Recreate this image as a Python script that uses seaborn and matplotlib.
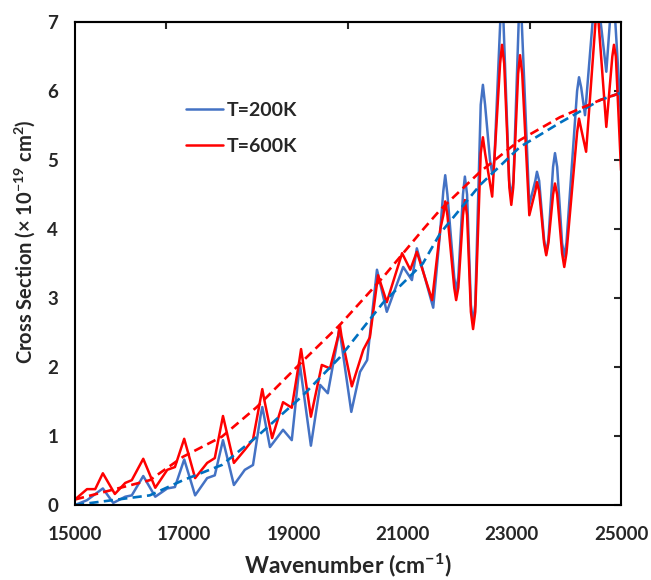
import matplotlib
matplotlib.use("Agg")
import matplotlib.pyplot as plt
import seaborn as sns
import pandas as pd

# solid curves (peaks, valleys, shoulders)
wn_200 = [15000, 15220, 15510, 15700, 15920, 16040, 16250, 16470, 16690, 16830,
          17000, 17200, 17420, 17560, 17710, 17910, 18110, 18260, 18400, 18430,
          18460, 18570, 18810, 18970, 19090, 19120, 19150, 19320, 19490, 19630,
          19810, 19840, 19870, 20060, 20220, 20350, 20530, 20710, 21010, 21170,
          21260, 21560, 21690, 21745, 21780, 21820, 21945, 21980, 22020, 22105,
          22140, 22180, 22250, 22290, 22330, 22430, 22470, 22510, 22600, 22640,
          22680, 22820, 22950, 22990, 23030, 23150, 23320, 23430, 23460, 23500,
          23590, 23630, 23670, 23755, 23790, 23830, 23920, 23960, 24000, 24195,
          24230, 24270, 24340, 24540, 24730, 24850, 25000]
cs_200 = [0.00, 0.07, 0.24, 0.03, 0.12, 0.14, 0.42, 0.12, 0.24, 0.26,
          0.66, 0.14, 0.39, 0.43, 0.94, 0.29, 0.51, 0.58, 1.30, 1.42,
          1.30, 0.84, 1.09, 0.94, 1.85, 2.03, 1.85, 0.86, 1.74, 1.62,
          2.40, 2.56, 2.40, 1.35, 1.93, 2.10, 3.41, 2.80, 3.45, 3.26,
          3.72, 2.86, 3.99, 4.55, 4.78, 4.50, 3.30, 3.10, 3.30, 4.50,
          4.76, 4.50, 2.90, 2.65, 2.90, 5.80, 6.09, 5.80, 5.00, 4.81,
          5.00, 7.60, 4.70, 4.47, 4.70, 7.60, 4.35, 4.70, 4.83, 4.70,
          3.85, 3.65, 3.85, 4.90, 5.10, 4.90, 3.80, 3.60, 3.80, 6.00,
          6.20, 6.05, 5.65, 7.60, 6.28, 7.60, 5.60]

wn_600 = [15000, 15220, 15370, 15510, 15730, 15920, 16040, 16250, 16470, 16690,
          16830, 17000, 17200, 17420, 17560, 17710, 17910, 18110, 18260, 18400,
          18430, 18460, 18610, 18810, 18970, 19110, 19140, 19170, 19320, 19520,
          19670, 19820, 19850, 19880, 20070, 20280, 20400, 20550, 20710, 20990,
          21140, 21260, 21540, 21690, 21745, 21780, 21820, 21945, 21980, 22020,
          22105, 22140, 22180, 22250, 22290, 22330, 22430, 22470, 22510, 22640,
          22785, 22820, 22860, 22955, 22990, 23025, 23115, 23150, 23190, 23320,
          23430, 23460, 23500, 23590, 23630, 23670, 23755, 23790, 23830, 23920,
          23960, 24000, 24195, 24230, 24270, 24360, 24560, 24730, 24840, 24870,
          24905, 25000]
cs_600 = [0.08, 0.23, 0.23, 0.46, 0.16, 0.32, 0.36, 0.67, 0.25, 0.51,
          0.55, 0.96, 0.39, 0.61, 0.68, 1.29, 0.61, 0.80, 0.95, 1.55,
          1.68, 1.55, 0.97, 1.49, 1.41, 2.10, 2.26, 2.10, 1.28, 2.03,
          1.98, 2.45, 2.61, 2.45, 1.72, 2.25, 2.43, 3.33, 2.94, 3.65,
          3.41, 3.67, 2.97, 4.00, 4.20, 4.40, 4.20, 3.15, 2.97, 3.15,
          4.20, 4.42, 4.20, 2.80, 2.55, 2.80, 5.10, 5.33, 5.10, 4.47,
          6.40, 6.67, 6.40, 4.60, 4.35, 4.60, 6.25, 6.52, 6.25, 4.20,
          4.55, 4.68, 4.55, 3.80, 3.62, 3.80, 4.50, 4.66, 4.50, 3.65,
          3.45, 3.65, 5.40, 5.60, 5.45, 5.12, 7.30, 5.48, 6.50, 6.67,
          6.50, 4.85]

# dashed smooth curves
wn_fit = [15000, 16370, 16980, 17690, 18330, 19150, 19850, 20640, 21370,
          21690, 22420, 23150, 23880, 24620, 24980]
fit_200 = [0.00, 0.14, 0.36, 0.58, 0.99, 1.57, 2.14, 2.93, 3.50,
           3.94, 4.64, 5.19, 5.54, 5.87, 5.97]
fit_600 = [0.08, 0.36, 0.70, 0.99, 1.42, 2.07, 2.61, 3.30, 3.99,
           4.28, 4.83, 5.29, 5.62, 5.87, 5.97]

x_ticks = [15000, 17000, 19000, 21000, 23000, 25000]
top_ticks = [16667, 20000, 23333]

sns.set_style("white")
plt.rcParams['font.family'] = ['Lato', 'DejaVu Sans']
plt.rcParams['font.weight'] = 'bold'
plt.rcParams['mathtext.fontset'] = 'custom'
plt.rcParams['mathtext.rm'] = 'Lato:bold'
plt.rcParams['mathtext.bf'] = 'Lato:bold'
plt.rcParams['mathtext.default'] = 'bf'

df200 = pd.DataFrame({"wn": wn_200, "cs": cs_200})
df600 = pd.DataFrame({"wn": wn_600, "cs": cs_600})
dffit = pd.DataFrame({"wn": wn_fit, "f200": fit_200, "f600": fit_600})

fig = plt.figure(figsize=(6.51, 5.80), dpi=100)
ax = fig.add_axes([0.1152, 0.1293, 0.954 - 0.1152, 0.962 - 0.1293])

sns.lineplot(x="wn", y="cs", data=df200, ax=ax, color="#4472C4", lw=1.8,
             label="T=200K", sort=False, solid_joinstyle="round")
sns.lineplot(x="wn", y="cs", data=df600, ax=ax, color="#FF0000", lw=1.8,
             label="T=600K", sort=False, solid_joinstyle="round")
sns.lineplot(x="wn", y="f200", data=dffit, ax=ax, color="#0070C0", lw=1.9,
             ls=(0, (3.5, 2)), legend=False)
sns.lineplot(x="wn", y="f600", data=dffit, ax=ax, color="#FF0000", lw=1.9,
             ls=(0, (3.5, 2)), legend=False)

ax.set_xlim(15000, 25000)
ax.set_ylim(0, 7)
ax.set_xticks(x_ticks)
ax.set_yticks(range(8))
ax.tick_params(direction="in", length=5, width=1.5, labelsize=13.5,
               right=True, pad=12)
ax.tick_params(axis="x", pad=15)
secax = ax.secondary_xaxis("top")
secax.set_xticks(top_ticks)
secax.set_xticklabels([])
secax.tick_params(direction="in", length=5, width=1.5)
secax.spines["top"].set_linewidth(1.5)
for s in ax.spines.values():
    s.set_linewidth(1.5)
    s.set_color("black")

ax.set_xlabel("Wavenumber (cm$^{-1}$)", fontsize=16.5, fontweight="bold", labelpad=6)
ax.set_ylabel("Cross Section (\u00d7 10$^{-19}$ cm$^{2}$)", fontsize=14.5,
              fontweight="bold")
ax.yaxis.set_label_coords(-0.07, 0.545)

ax.legend(loc="center left", bbox_to_anchor=(0.203, 0.78), frameon=False,
          fontsize=14, handlelength=1.9, handletextpad=0.2, labelspacing=0.95,
          borderpad=0, borderaxespad=0)

plt.savefig("out.png", dpi=100)
